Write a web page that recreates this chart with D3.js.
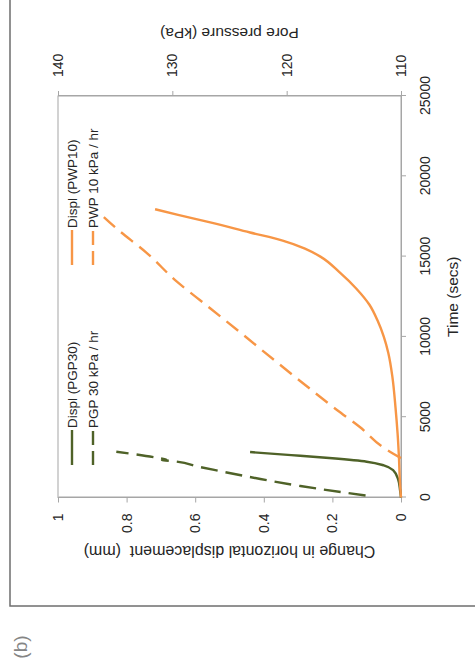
<!DOCTYPE html>
<html>
<head>
<meta charset="utf-8">
<script src="https://cdn.jsdelivr.net/npm/d3@7"></script>
<style>
  html, body { margin: 0; padding: 0; background: #ffffff; }
  svg { display: block; }
  text { font-family: "Liberation Sans", Arial, sans-serif; fill: #262626; }
</style>
</head>
<body>
<svg id="chart" width="475" height="668"></svg>
<script>
// Horizontal displacement (mm) against time (s), test PGP30
const pgp30DisplTime = [0, 500, 1100, 1700, 2000, 2230, 2440, 2640, 2830];
const pgp30Displ     = [0, 0.003, 0.008, 0.023, 0.05, 0.1, 0.2, 0.32, 0.44];

// Horizontal displacement (mm) against time (s), test PWP10
const pwp10DisplTime = [0, 900, 2500, 4000, 5600, 7500, 9000, 10000, 11000, 12000, 13000,
                        14000, 15000, 15500, 16000, 16500, 17100, 17600, 17950];
const pwp10Displ     = [0, 0.003, 0.006, 0.01, 0.016, 0.025, 0.037, 0.05, 0.068, 0.092, 0.13,
                        0.178, 0.235, 0.28, 0.345, 0.44, 0.55, 0.65, 0.717];

// Pore pressure (kPa) against time (s), 30 kPa/hr ramp
const pgp30PoreTime = [125, 716, 1152, 1899, 2290, 2315, 2340, 2441, 2852];
const pgp30Pore     = [113.1, 118.8, 122.3, 127.6, 130.3, 130.9, 130.5, 131.1, 134.9];

// Pore pressure (kPa) against time (s), 10 kPa/hr ramp
const pwp10PoreTime = [2450, 3144, 4390, 5449, 7130, 8562, 10243, 12298, 13437, 15205, 16762, 17796];
const pwp10Pore     = [110.0, 111.6, 113.6, 115.6, 118.6, 121.1, 124.0, 127.6, 129.6, 132.2, 134.9, 136.5];

// Axis ticks
const timeTicks = [0, 5000, 10000, 15000, 20000, 25000];
const displTicks = [0, 0.2, 0.4, 0.6, 0.8, 1];
const displTickLabels = ["0", "0.2", "0.4", "0.6", "0.8", "1"];
const poreTicks = [110, 120, 130, 140];

const legendLabels = ["Displ (PGP30)", "PGP 30 kPa / hr", "Displ (PWP10)", "PWP 10 kPa / hr"];

const ORANGE = "#f79646";
const GREEN = "#4f6228";

// The figure is laid out landscape (W x H) and turned a quarter turn
// anticlockwise onto the portrait page.
const W = 668, H = 475;
const svg = d3.select("#chart");
const fig = svg.append("g").attr("transform", `translate(0,${W}) rotate(-90)`);

const plot = { left: 170.5, right: 572, top: 58, bottom: 401 };

const x = d3.scaleLinear().domain([0, 25000]).range([plot.left, plot.right]);
const yL = d3.scaleLinear().domain([0, 1]).range([plot.bottom, plot.top]);
const yR = d3.scaleLinear().domain([110, 140]).range([plot.bottom, plot.top]);

// outer frame of the figure panel
fig.append("rect")
  .attr("x", 62).attr("y", 10)
  .attr("width", 700).attr("height", 600)
  .attr("fill", "none").attr("stroke", "#6e6e6e").attr("stroke-width", 1.5);

// panel letter
fig.append("text")
  .attr("x", 21).attr("y", 20).attr("dy", "0.35em")
  .attr("text-anchor", "middle")
  .style("font-size", "19px").style("fill", "#858585")
  .text("(b)");

// plot area border
fig.append("rect")
  .attr("x", plot.left).attr("y", plot.top)
  .attr("width", plot.right - plot.left).attr("height", plot.bottom - plot.top)
  .attr("fill", "none").attr("stroke", "#a6a6a6").attr("stroke-width", 1);

function styleAxis(g) {
  g.select(".domain").attr("stroke", "#a6a6a6");
  g.selectAll(".tick line").attr("stroke", "#a6a6a6");
  g.selectAll(".tick text").style("font-size", "14px").style("fill", "#262626")
    .attr("font-family", null);
}

// time axis
fig.append("g")
  .attr("transform", `translate(0,${plot.bottom})`)
  .call(d3.axisBottom(x).tickValues(timeTicks).tickFormat(d3.format("d"))
        .tickSize(5).tickSizeOuter(0).tickPadding(14))
  .call(styleAxis);

// displacement axis
fig.append("g")
  .attr("transform", `translate(${plot.left},0)`)
  .call(d3.axisLeft(yL).tickValues(displTicks)
        .tickFormat((d, i) => displTickLabels[i])
        .tickSize(5).tickSizeOuter(0).tickPadding(11))
  .call(styleAxis);

// pore pressure axis
fig.append("g")
  .attr("transform", `translate(${plot.right},0)`)
  .call(d3.axisRight(yR).tickValues(poreTicks).tickFormat(d3.format("d"))
        .tickSize(5).tickSizeOuter(0).tickPadding(14))
  .call(styleAxis);

// axis titles
fig.append("text")
  .attr("x", (plot.left + plot.right) / 2).attr("y", 453).attr("dy", "0.35em")
  .attr("text-anchor", "middle").style("font-size", "15.5px")
  .text("Time (secs)");

fig.append("text")
  .attr("transform", `translate(116,${(plot.top + plot.bottom) / 2}) rotate(-90)`)
  .attr("dy", "0.35em").attr("text-anchor", "middle").style("font-size", "16px")
  .attr("xml:space", "preserve")
  .text("Change in horizontal displacement  (mm)");

fig.append("text")
  .attr("transform", `translate(635,${(plot.top + plot.bottom) / 2}) rotate(-90)`)
  .attr("dy", "0.35em").attr("text-anchor", "middle").style("font-size", "15.5px")
  .text("Pore pressure (kPa)");

// series
const lineL = d3.line().curve(d3.curveMonotoneX).x(d => x(d[0])).y(d => yL(d[1]));
const lineR = d3.line().curve(d3.curveMonotoneX).x(d => x(d[0])).y(d => yR(d[1]));
const zip = (a, b) => a.map((v, i) => [v, b[i]]);

const series = [
  { pts: zip(pgp30DisplTime, pgp30Displ), line: lineL, color: GREEN, dash: null },
  { pts: zip(pgp30PoreTime, pgp30Pore), line: lineR, color: GREEN, dash: "17,8" },
  { pts: zip(pwp10DisplTime, pwp10Displ), line: lineL, color: ORANGE, dash: null },
  { pts: zip(pwp10PoreTime, pwp10Pore), line: lineR, color: ORANGE, dash: "15,8" }
];

fig.append("g").selectAll("path")
  .data(series)
  .join("path")
  .attr("d", s => s.line(s.pts))
  .attr("fill", "none")
  .attr("stroke", s => s.color)
  .attr("stroke-width", 2.4)
  .attr("stroke-linejoin", "round")
  .attr("stroke-dasharray", s => s.dash);

// legend: two columns, two rows
const legendPos = [
  { lx: 203, ly: 72 }, { lx: 203, ly: 93 },
  { lx: 403, ly: 72 }, { lx: 403, ly: 93 }
];
const leg = fig.append("g").selectAll("g")
  .data(series)
  .join("g")
  .attr("transform", (s, i) => `translate(${legendPos[i].lx},${legendPos[i].ly})`);
leg.append("line")
  .attr("x1", 0).attr("x2", 35).attr("y1", 0).attr("y2", 0)
  .attr("stroke", s => s.color).attr("stroke-width", 2.4)
  .attr("stroke-dasharray", s => s.dash ? "14,6" : null);
leg.append("text")
  .attr("x", 37).attr("y", 0).attr("dy", "0.35em")
  .style("font-size", "13.5px")
  .text((s, i) => legendLabels[i]);
</script>
</body>
</html>
